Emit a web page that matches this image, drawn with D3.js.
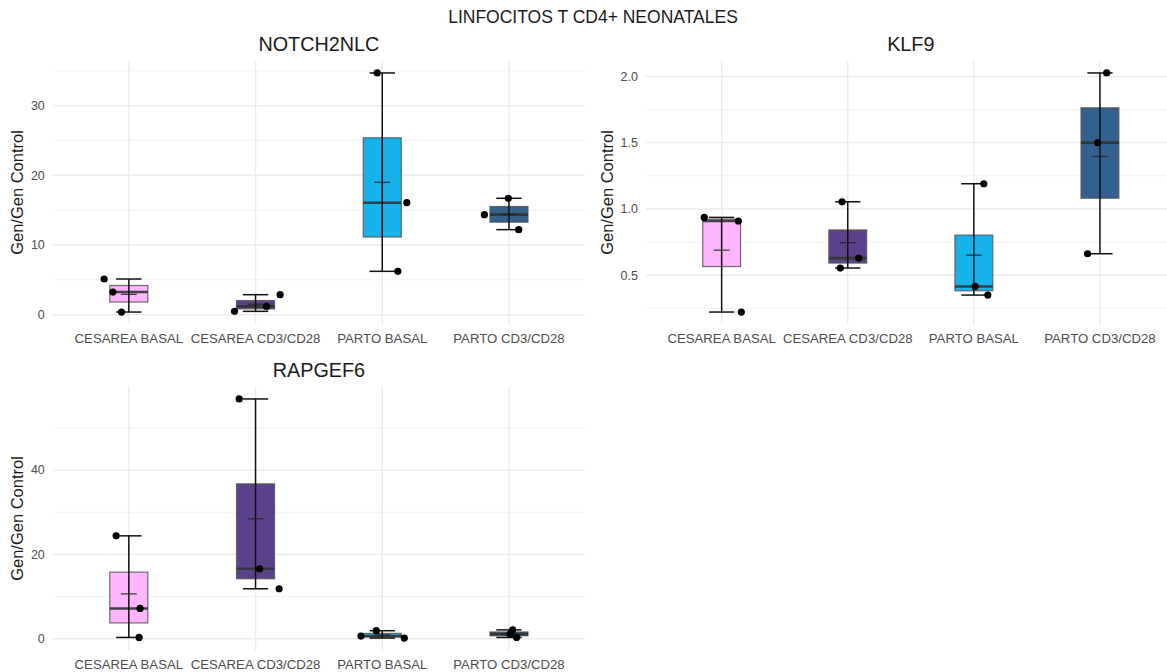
<!DOCTYPE html>
<html>
<head>
<meta charset="utf-8">
<script src="https://cdn.jsdelivr.net/npm/d3@7"></script>
<style>
  html, body { margin: 0; padding: 0; background: #ffffff; }
  svg { display: block; font-family: "Liberation Sans", Arial, Helvetica, sans-serif; }
</style>
</head>
<body>
<svg id="chart" width="1167" height="672"></svg>
<script>
// Groups shown on every panel's x axis
const categories = ["CESAREA BASAL", "CESAREA CD3/CD28", "PARTO BASAL", "PARTO CD3/CD28"];
const groupColors = ["#FFB5FF", "#5B4189", "#15B3EA", "#33618E"];

// Relative expression (Gen/Gen Control), three samples per group
const notch2nlcValues = [[5.12, 3.25, 0.38], [0.48, 1.19, 2.87], [34.68, 16.07, 6.22], [14.35, 16.70, 12.20]];
const klf9Values      = [[0.936, 0.909, 0.222], [1.054, 0.629, 0.554], [1.19, 0.415, 0.35], [2.026, 1.50, 0.662]];
const rapgef6Values   = [[24.4, 7.18, 0.31], [56.87, 16.59, 11.85], [0.63, 1.90, 0.16], [2.10, 0.30, 1.10]];

// Horizontal jitter of each sample point, in category units
const notch2nlcJitter = [[-0.195, -0.126, -0.058], [-0.166, 0.087, 0.194], [-0.040, 0.194, 0.123], [-0.194, -0.005, 0.077]];
const klf9Jitter      = [[-0.138, 0.132, 0.156], [-0.045, 0.087, -0.059], [0.079, 0.010, 0.111], [0.053, -0.018, -0.098]];
const rapgef6Jitter   = [[-0.100, 0.089, 0.081], [-0.129, 0.032, 0.186], [-0.168, -0.047, 0.174], [0.029, 0.060, 0.008]];

// Axis breaks
const notch2nlcTicks = [0, 10, 20, 30];
const notch2nlcMinor = [5, 15, 25, 35];
const klf9Ticks = [0.5, 1.0, 1.5, 2.0];
const klf9Minor = [0.25, 0.75, 1.25, 1.75];
const rapgef6Ticks = [0, 20, 40];
const rapgef6Minor = [10, 30, 50];

const mainTitle = "LINFOCITOS T CD4+ NEONATALES";
const yTitle = "Gen/Gen Control";

const panels = [
  { gene: "NOTCH2NLC", values: notch2nlcValues, jitter: notch2nlcJitter, ticks: notch2nlcTicks, minor: notch2nlcMinor, fmt: d3.format("d"),
    left: 52.8, right: 585, top: 61, bottom: 324 },
  { gene: "KLF9", values: klf9Values, jitter: klf9Jitter, ticks: klf9Ticks, minor: klf9Minor, fmt: d3.format(".1f"),
    left: 646, right: 1175.6, top: 61, bottom: 324 },
  { gene: "RAPGEF6", values: rapgef6Values, jitter: rapgef6Jitter, ticks: rapgef6Ticks, minor: rapgef6Minor, fmt: d3.format("d"),
    left: 52.8, right: 585, top: 387, bottom: 650 }
];

const svg = d3.select("#chart");

svg.append("text")
  .attr("x", 593).attr("y", 22.5)
  .attr("text-anchor", "middle")
  .attr("font-size", 17.5)
  .attr("fill", "#1a1a1a")
  .text(mainTitle);

panels.forEach(p => {
  const g = svg.append("g");

  const x = d3.scalePoint().domain(categories).range([p.left, p.right]).padding(0.6);
  const step = x.step();

  // continuous y scale with 5% expansion on both sides
  const all = p.values.flat();
  const [lo, hi] = d3.extent(all);
  const pad = (hi - lo) * 0.05;
  const y = d3.scaleLinear().domain([lo - pad, hi + pad]).range([p.bottom, p.top]);

  // grid
  g.selectAll(".minor").data(p.minor.filter(v => v >= y.domain()[0] && v <= y.domain()[1]))
    .join("line")
    .attr("x1", p.left).attr("x2", p.right)
    .attr("y1", d => y(d)).attr("y2", d => y(d))
    .attr("stroke", "#F2F2F2").attr("stroke-width", 1);
  g.selectAll(".major").data(p.ticks)
    .join("line")
    .attr("x1", p.left).attr("x2", p.right)
    .attr("y1", d => y(d)).attr("y2", d => y(d))
    .attr("stroke", "#EBEBEB").attr("stroke-width", 1.4);
  g.selectAll(".vgrid").data(categories)
    .join("line")
    .attr("x1", d => x(d)).attr("x2", d => x(d))
    .attr("y1", p.top).attr("y2", p.bottom)
    .attr("stroke", "#EBEBEB").attr("stroke-width", 1.4);

  // y tick labels
  const yLabels = g.selectAll(".ylab").data(p.ticks)
    .join("text")
    .attr("x", p.left - 8)
    .attr("y", d => y(d))
    .attr("dy", "0.35em")
    .attr("text-anchor", "end")
    .attr("font-size", 12.5)
    .attr("fill", "#4D4D4D")
    .text(d => p.fmt(d));
  let maxW = 0;
  yLabels.each(function () { maxW = Math.max(maxW, this.getComputedTextLength()); });

  // y axis title
  const tx = p.left - 8 - maxW - 13.5;
  const ty = (p.top + p.bottom) / 2;
  g.append("text")
    .attr("transform", `translate(${tx},${ty}) rotate(-90)`)
    .attr("text-anchor", "middle")
    .attr("dy", "0.35em")
    .attr("font-size", 16.5)
    .attr("fill", "#1a1a1a")
    .text(yTitle);

  // x tick labels
  g.selectAll(".xlab").data(categories)
    .join("text")
    .attr("x", d => x(d))
    .attr("y", p.bottom + 18.5)
    .attr("text-anchor", "middle")
    .attr("font-size", 13.2)
    .attr("fill", "#4D4D4D")
    .text(d => d);

  // panel title
  g.append("text")
    .attr("x", (p.left + p.right) / 2)
    .attr("y", p.top - 10.5)
    .attr("text-anchor", "middle")
    .attr("font-size", 19.8)
    .attr("fill", "#1a1a1a")
    .text(p.gene);

  // boxes, whiskers, means and points per group
  categories.forEach((cat, i) => {
    const vals = p.values[i].slice().sort(d3.ascending);
    const q1 = d3.quantile(vals, 0.25);
    const med = d3.quantile(vals, 0.5);
    const q3 = d3.quantile(vals, 0.75);
    const iqr = q3 - q1;
    const wLo = d3.min(vals.filter(v => v >= q1 - 1.5 * iqr));
    const wHi = d3.max(vals.filter(v => v <= q3 + 1.5 * iqr));
    const mean = d3.mean(vals);
    const cx = x(cat);
    const bw = step * 0.3;
    const cw = step * 0.2;
    const mw = step * 0.125;

    const grp = g.append("g");
    grp.append("rect")
      .attr("x", cx - bw / 2).attr("width", bw)
      .attr("y", y(q3)).attr("height", Math.max(0.5, y(q1) - y(q3)))
      .attr("fill", groupColors[i])
      .attr("stroke", "#555555").attr("stroke-opacity", 0.85).attr("stroke-width", 1.2);
    grp.append("line")
      .attr("x1", cx - bw / 2).attr("x2", cx + bw / 2)
      .attr("y1", y(med)).attr("y2", y(med))
      .attr("stroke", "#333333").attr("stroke-opacity", 0.9).attr("stroke-width", 2.6);

    // error-bar style whiskers
    grp.append("line")
      .attr("x1", cx).attr("x2", cx)
      .attr("y1", y(wLo)).attr("y2", y(wHi))
      .attr("stroke", "#111").attr("stroke-width", 1.5);
    [wLo, wHi].forEach(v => {
      grp.append("line")
        .attr("x1", cx - cw / 2).attr("x2", cx + cw / 2)
        .attr("y1", y(v)).attr("y2", y(v))
        .attr("stroke", "#111").attr("stroke-width", 1.5);
    });

    // mean marker
    grp.append("line")
      .attr("x1", cx - mw / 2).attr("x2", cx + mw / 2)
      .attr("y1", y(mean)).attr("y2", y(mean))
      .attr("stroke", "#222").attr("stroke-opacity", 0.85).attr("stroke-width", 1.3);

    // samples
    grp.selectAll("circle").data(p.values[i].map((v, k) => ({ v, j: p.jitter[i][k] })))
      .join("circle")
      .attr("cx", d => cx + d.j * step)
      .attr("cy", d => y(d.v))
      .attr("r", 3.6)
      .attr("fill", "#000");
  });
});
</script>
</body>
</html>
